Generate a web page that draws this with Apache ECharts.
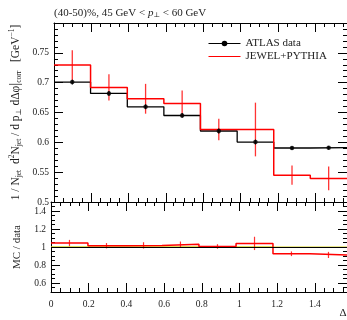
<!DOCTYPE html>
<html>
<head>
<meta charset="utf-8">
<script src="https://cdn.jsdelivr.net/npm/echarts@6/dist/echarts.min.js"></script>
<style>
  html, body { margin: 0; padding: 0; background: #fff; }
  #chart { width: 347px; height: 320px; }
</style>
</head>
<body>
<div id="chart"></div>
<script>
// bins in delta phi (pi/16 wide, up to pi/2)
var binEdges = [0, 0.196, 0.393, 0.589, 0.785, 0.982, 1.178, 1.374, 1.571];
var atlasVals = [0.701, 0.682, 0.6595, 0.645, 0.619, 0.6005, 0.5905, 0.591];
var atlasErr = [0.004, 0.004, 0.004, 0.004, 0.004, 0.004, 0.003, 0.003];
var jewelVals = [0.7295, 0.692, 0.673, 0.665, 0.6215, 0.6215, 0.545, 0.5395];
var jewelErr = [0.025, 0.022, 0.025, 0.022, 0.018, 0.045, 0.016, 0.02];
var ratioVals = [1.044, 1.014, 1.018, 1.031, 1.006, 1.04, 0.925, 0.912];
var ratioErr = [0.035, 0.03, 0.035, 0.03, 0.025, 0.074, 0.026, 0.034];
var dataRelErr = [0.007, 0.007, 0.007, 0.007, 0.007, 0.007, 0.006, 0.006];

var xMajors = [0, 0.2, 0.4, 0.6, 0.8, 1, 1.2, 1.4];
var mainYMajors = [0.5, 0.55, 0.6, 0.65, 0.7, 0.75, 0.8];
var mainYLabels = [0.5, 0.55, 0.6, 0.65, 0.7, 0.75];
var ratioYMajors = [0.6, 0.8, 1, 1.2, 1.4];

var xMax = 1.5708;
var serif = '"Liberation Serif", "DejaVu Serif", serif';

var centers = [];
for (var i = 0; i < atlasVals.length; i++) {
    centers.push((binEdges[i] + binEdges[i + 1]) / 2);
}
function stepData(vals) {
    return binEdges.map(function (e, i) {
        return [e, vals[Math.min(i, vals.length - 1)]];
    });
}
function errData(vals, errs) {
    return centers.map(function (c, i) { return [c, vals[i], errs[i]]; });
}
function errRender(color, width) {
    return function (params, api) {
        var x = api.value(0), y = api.value(1), e = api.value(2);
        var top = api.coord([x, y + e]);
        var bot = api.coord([x, y - e]);
        return {
            type: 'line',
            shape: { x1: top[0], y1: top[1], x2: bot[0], y2: bot[1] },
            style: { stroke: color, lineWidth: width }
        };
    };
}

// each frame side = one axis with the short ticks + one with the long ones
function sideAxes(grid, pos, min, max, step, majors, labels, extra) {
    var minor = {
        type: 'value', gridIndex: grid, position: pos, min: min, max: max, interval: step,
        splitLine: { show: false },
        axisLine: { show: true, onZero: false, lineStyle: { color: '#000', width: 1 } },
        axisTick: { inside: true, length: 4, lineStyle: { color: '#000', width: 1 } },
        axisLabel: { show: false }
    };
    var major = {
        type: 'value', gridIndex: grid, position: pos, min: min, max: max,
        splitLine: { show: false },
        axisLine: { show: false, onZero: false },
        axisTick: { inside: true, length: 9, customValues: majors, lineStyle: { color: '#000', width: 1 } },
        axisLabel: labels ? labels : { show: false }
    };
    if (extra) { for (var k in extra) minor[k] = extra[k]; }
    return [minor, major];
}

var xLabels = { show: true, customValues: xMajors, margin: 7, fontSize: 9.5, fontFamily: serif, color: '#222' };
var yMainLabels = { show: true, customValues: mainYLabels, margin: 5, fontSize: 9.5, fontFamily: serif, color: '#222' };
var yRatioLabels = { show: true, customValues: ratioYMajors, margin: 5, fontSize: 9.5, fontFamily: serif, color: '#222' };

var xAxes = [].concat(
    sideAxes(0, 'bottom', 0, xMax, 0.05, xMajors),
    sideAxes(0, 'top', 0, xMax, 0.05, xMajors),
    sideAxes(1, 'bottom', 0, xMax, 0.05, xMajors, xLabels),
    sideAxes(1, 'top', 0, xMax, 0.05, xMajors)
);
var yAxes = [].concat(
    sideAxes(0, 'left', 0.5, 0.8, 0.01, mainYMajors, yMainLabels, {
        name: '1 / N{s|jet}  d{p|2}N{s|jet} / d p{s|\u22a5} d\u0394\u03c6{b||}{s|corr}   [GeV{p|\u22121}]',
        nameLocation: 'middle', nameRotate: 90, nameGap: 31,
        nameTextStyle: {
            fontFamily: serif, fontSize: 11.5, color: '#222', lineHeight: 15,
            rich: {
                s: { fontFamily: serif, fontSize: 7.5, lineHeight: 9, verticalAlign: 'bottom', color: '#222' },
                p: { fontFamily: serif, fontSize: 7.5, lineHeight: 9, verticalAlign: 'top', color: '#222' },
                b: { fontFamily: serif, fontSize: 15, lineHeight: 15, color: '#222' }
            }
        }
    }),
    sideAxes(0, 'right', 0.5, 0.8, 0.01, mainYMajors),
    sideAxes(1, 'left', 0.5, 1.5, 0.05, ratioYMajors, yRatioLabels, {
        name: 'MC / data', nameLocation: 'middle', nameRotate: 90, nameGap: 28,
        nameTextStyle: { fontFamily: serif, fontSize: 11, color: '#222' }
    }),
    sideAxes(1, 'right', 0.5, 1.5, 0.05, ratioYMajors)
);

var option = {
    animation: false,
    backgroundColor: '#fff',
    title: {
        text: '(40-50)%, 45 GeV < {i|p}{s|\u22a5} < 60 GeV',
        left: 49, top: 3,
        textStyle: {
            fontFamily: serif, fontSize: 11, fontWeight: 'normal', color: '#222',
            rich: {
                i: { fontFamily: serif, fontSize: 11, fontStyle: 'italic', color: '#222' },
                s: { fontFamily: serif, fontSize: 7, verticalAlign: 'bottom', lineHeight: 9, color: '#222' }
            }
        }
    },
    legend: {
        data: [
            { name: 'ATLAS data', lineStyle: { width: 1 } },
            { name: 'JEWEL+PYTHIA', lineStyle: { width: 1 }, itemStyle: { opacity: 0 } }
        ],
        orient: 'vertical', left: 203, top: 33,
        itemWidth: 32, itemHeight: 7, itemGap: 2,
        textStyle: { fontFamily: serif, fontSize: 11, color: '#222', lineHeight: 9 },
        selectedMode: false
    },
    grid: [
        { left: 51, top: 23, width: 301, height: 179 },
        { left: 51, top: 202, width: 301, height: 90 }
    ],
    xAxis: xAxes,
    yAxis: yAxes,
    graphic: [{
        type: 'text', x: 353, y: 313,
        style: { text: '\u0394\u03c6', fontFamily: serif, fontSize: 11, fill: '#222', align: 'right', verticalAlign: 'middle' }
    }],
    series: [
        {
            name: 'ATLAS data', type: 'line', step: 'end',
            xAxisIndex: 0, yAxisIndex: 0,
            data: stepData(atlasVals),
            showSymbol: false, symbol: 'circle', symbolSize: 4,
            itemStyle: { color: '#000' },
            lineStyle: { color: '#000', width: 1.3 },
            silent: true, z: 2
        },
        {
            type: 'custom', xAxisIndex: 0, yAxisIndex: 0,
            data: errData(atlasVals, atlasErr),
            renderItem: errRender('#000', 1.2), silent: true, z: 4
        },
        {
            type: 'scatter', xAxisIndex: 0, yAxisIndex: 0,
            data: centers.map(function (c, i) { return [c, atlasVals[i]]; }),
            symbol: 'circle', symbolSize: 4.5,
            itemStyle: { color: '#000' }, silent: true, z: 5
        },
        {
            name: 'JEWEL+PYTHIA', type: 'line', step: 'end',
            xAxisIndex: 0, yAxisIndex: 0,
            data: stepData(jewelVals),
            showSymbol: false, symbol: 'none',
            itemStyle: { color: '#ff0000' },
            lineStyle: { color: '#ff0000', width: 1.5 },
            silent: true, z: 3
        },
        {
            type: 'custom', xAxisIndex: 0, yAxisIndex: 0,
            data: errData(jewelVals, jewelErr),
            renderItem: errRender('rgba(255,0,0,0.8)', 1.3), silent: true, z: 3
        },
        // ratio panel
        {
            type: 'custom', xAxisIndex: 4, yAxisIndex: 4,
            data: dataRelErr.map(function (e, i) { return [binEdges[i], binEdges[i + 1], e]; }),
            renderItem: function (params, api) {
                var p0 = api.coord([api.value(0), 1 + api.value(2)]);
                var p1 = api.coord([api.value(1), 1 - api.value(2)]);
                return {
                    type: 'rect',
                    shape: { x: p0[0], y: p0[1], width: p1[0] - p0[0], height: p1[1] - p0[1] },
                    style: { fill: '#d6d21c', stroke: null }
                };
            },
            silent: true, z: 1
        },
        {
            type: 'line', step: 'end', xAxisIndex: 4, yAxisIndex: 4,
            data: stepData(ratioVals),
            showSymbol: false, symbol: 'none',
            lineStyle: { color: '#ff0000', width: 1.5 },
            markLine: {
                silent: true, symbol: 'none', label: { show: false },
                lineStyle: { color: '#000', width: 1, type: 'solid' },
                data: [{ yAxis: 1 }]
            },
            silent: true, z: 3
        },
        {
            type: 'custom', xAxisIndex: 4, yAxisIndex: 4,
            data: errData(ratioVals, ratioErr),
            renderItem: errRender('rgba(255,0,0,0.8)', 1.2), silent: true, z: 3
        }
    ]
};

var myChart = echarts.init(document.getElementById('chart'), null, { renderer: 'canvas' });
myChart.setOption(option);
</script>
</body>
</html>
